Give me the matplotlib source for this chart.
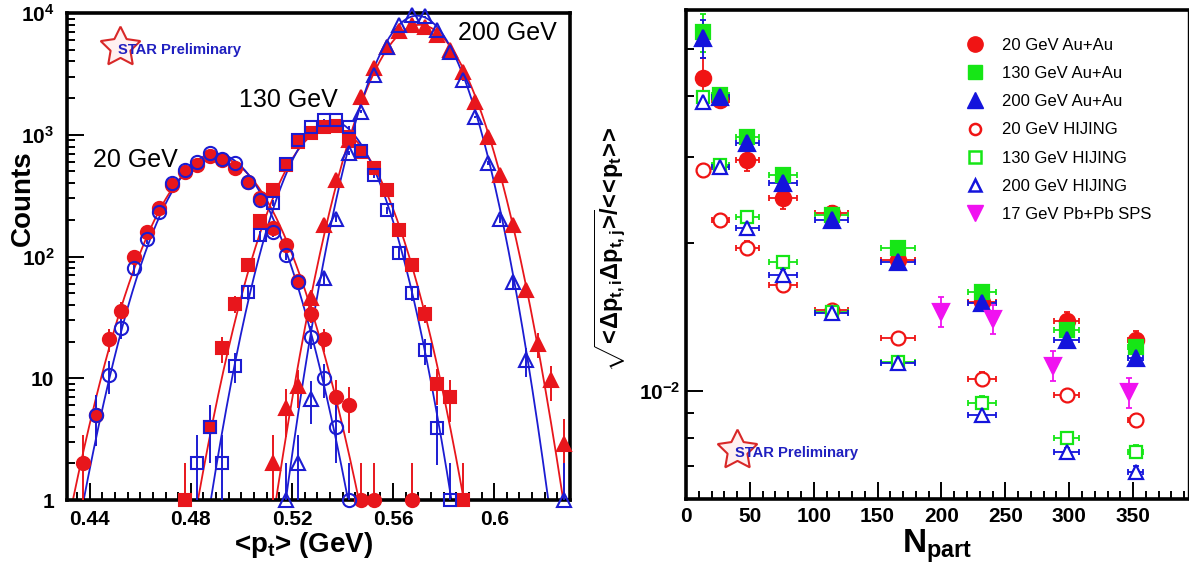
import numpy as np
import matplotlib
matplotlib.use('Agg')
import matplotlib.pyplot as plt
from matplotlib.lines import Line2D
from matplotlib.ticker import FixedLocator, FixedFormatter, MultipleLocator, NullFormatter

plt.rcParams.update({
    'font.family': ['Liberation Sans', 'DejaVu Sans'],
    'mathtext.fontset': 'custom',
    'mathtext.rm': 'Liberation Sans:bold',
    'mathtext.it': 'Liberation Sans:bold',
    'mathtext.bf': 'Liberation Sans:bold',
    'mathtext.sf': 'Liberation Sans:bold',
})

# ---------------- Left panel: <pt> distributions ----------------
pt_au20 = [.4375, .4425, .4475, .4525, .4575, .4625, .4675, .4725, .4775, .4825, .4875, .4925,
           .4975, .5025, .5075, .5125, .5175, .5225, .5275, .5325, .5375, .5425, .5475, .5525, .5675]
cnt_au20 = [2, 5, 21, 36, 100, 158, 250, 385, 490, 560, 670, 620,
            530, 410, 300, 170, 124, 63, 34, 21, 7, 6, 1, 1, 1]

pt_hij20 = [.4425, .4475, .4525, .4575, .4625, .4675, .4725, .4775, .4825, .4875, .4925,
            .4975, .5025, .5075, .5125, .5175, .5225, .5275, .5325, .5375, .5425]
cnt_hij20 = [5, 10.7, 26, 81, 139, 232, 400, 510, 600, 710, 630,
             590, 410, 290, 158, 103, 62, 22, 10, 4, 1]

pt_au130 = [.4775, .4875, .4925, .4975, .5025, .5075, .5125, .5175, .5225, .5275, .5325,
            .5375, .5425, .5475, .5525, .5575, .5625, .5675, .5725, .5775, .5825, .5875]
cnt_au130 = [1, 4, 17.6, 41, 85, 195, 352, 565, 870, 1030, 1150,
             1180, 960, 720, 530, 350, 165, 85, 34, 9, 7, 1]

pt_hij130 = [.4825, .4875, .4925, .4975, .5025, .5075, .5125, .5175, .5225, .5275, .5325,
             .5375, .5425, .5475, .5525, .5575, .5625, .5675, .5725, .5775, .5825]
cnt_hij130 = [2, 4, 2, 12.7, 51, 149, 275, 575, 910, 1150, 1320,
              1320, 1150, 740, 465, 240, 107, 50, 17, 3.9, 1]

pt_au200 = [.5125, .5175, .5225, .5275, .5325, .5375, .5425, .5475, .5525, .5575, .5625, .5675,
            .5725, .5775, .5825, .5875, .5925, .5975, .6025, .6075, .6125, .6175, .6225, .6275]
cnt_au200 = [2, 5.7, 8.7, 46, 180, 424, 910, 2040, 3550, 5290, 7050, 8000,
             7700, 6600, 5000, 3300, 1850, 960, 465, 183, 53, 19, 9.6, 2.9]

pt_hij200 = [.5175, .5225, .5275, .5325, .5375, .5425, .5475, .5525, .5575, .5625, .5675,
             .5725, .5775, .5825, .5875, .5925, .5975, .6025, .6075, .6125, .6275]
cnt_hij200 = [1, 2, 6.8, 67, 205, 710, 1550, 3100, 5300, 8000, 9700,
              9400, 7300, 4800, 2800, 1400, 590, 203, 62, 14, 1]

# Gaussian fit parameters: au20, hij20, au130, hij130, au200, hij200
fit_amp = [660, 700, 1150, 1300, 8000, 9500]
fit_mean = [0.4899, 0.4899, 0.5354, 0.5355, 0.5705, 0.5695]
fit_sigma = [0.0157, 0.01445, 0.01401, 0.01257, 0.0134, 0.01213]

energy_labels = ['20 GeV', '130 GeV', '200 GeV']

left_xticks = [0.44, 0.48, 0.52, 0.56, 0.6]
left_xticklabels = ['0.44', '0.48', '0.52', '0.56', '0.6']
left_yticks = [1, 10, 100, 1000, 10000]
left_yticklabels = ['1', '10', r'$10^{2}$', r'$10^{3}$', r'$10^{4}$']

# ---------------- Right panel: fluctuations vs Npart ----------------
npart = [13, 27, 48, 76, 114, 166, 232, 298, 352]
npart_err = [3, 7, 9, 11, 13, 13, 11, 10, 6]
fl_au20 = [0.0435, 0.0392, 0.0296, 0.0247, 0.0231, 0.0185, 0.0152, 0.0139, 0.0127]
fl_au130 = [0.0541, 0.0402, 0.0330, 0.0276, 0.0229, 0.0196, 0.0159, 0.0133, 0.01225]
fl_au200 = [0.0525, 0.0398, 0.0321, 0.0266, 0.0223, 0.0183, 0.0151, 0.0127, 0.01168]
fl_hij20 = [0.0282, 0.0223, 0.0196, 0.0164, 0.0146, 0.0128, 0.01058, 0.00981, 0.00869]
fl_hij130 = [0.0398, 0.0289, 0.0226, 0.0183, 0.0145, 0.01146, 0.00945, 0.00798, 0.0075]
fl_hij200 = [0.0389, 0.0287, 0.0215, 0.0172, 0.0144, 0.0114, 0.00893, 0.00747, 0.00681]
relerr_au = [0.09, 0.03, 0.03, 0.03, 0.02, 0.02, 0.02, 0.02, 0.02]
relerr_au20 = [0.10, 0.03, 0.05, 0.05, 0.03, 0.03, 0.03, 0.04, 0.04]
relerr_hij = [0.03, 0.03, 0.03, 0.03, 0.02, 0.02, 0.03, 0.02, 0.03]

npart_sps = [200, 240, 287, 347]
fl_sps = [0.0145, 0.0140, 0.01124, 0.00991]
relerr_sps = [0.07, 0.07, 0.07, 0.07]

legend_labels = ['20 GeV Au+Au', '130 GeV Au+Au', '200 GeV Au+Au', '20 GeV HIJING',
                 '130 GeV HIJING', '200 GeV HIJING', '17 GeV Pb+Pb SPS']

right_xticks = [0, 50, 100, 150, 200, 250, 300, 350]

# ---------------- styling ----------------
RED = '#e8161c'
BLUE = '#1c1cd2'
R2 = '#f01414'
G2 = '#16e616'
B2 = '#1414dc'
MAG = '#f012f0'

W, H = 1189, 567
fig = plt.figure(figsize=(W / 100, H / 100), dpi=100)


def px_axes(l, t, r, b):
    return fig.add_axes([l / W, 1 - b / H, (r - l) / W, (b - t) / H])


axL = px_axes(67, 13, 570, 500)
axR = px_axes(686, 10, 1188, 499)

for ax in (axL, axR):
    for s in ax.spines.values():
        s.set_linewidth(2.6)
    ax.tick_params(which='both', direction='in', top=False, right=False, width=1.4)
    ax.tick_params(which='major', length=12, labelsize=15)
    ax.tick_params(which='minor', length=6)
axR.spines['right'].set_linewidth(1.0)

# ---- left panel drawing ----
axL.set_yscale('log')
axL.set_xlim(0.431, 0.63)
axL.set_ylim(1, 1e4)

xf = np.linspace(0.43, 0.63, 1200)
fit_colors = [RED, BLUE, RED, BLUE, RED, BLUE]
for a, m, s, c in zip(fit_amp, fit_mean, fit_sigma, fit_colors):
    axL.plot(xf, a * np.exp(-(xf - m) ** 2 / (2 * s ** 2)), color=c, lw=1.3, zorder=2)


def hist_points(ax, pt, cnt, color, marker, filled, ms):
    pt = np.asarray(pt)
    cnt = np.asarray(cnt, float)
    err = np.sqrt(cnt)
    lo = np.minimum(err, cnt * 0.95)
    ax.errorbar(pt, cnt, yerr=[lo, err], fmt='none', ecolor=color, elinewidth=1.4, capsize=0, zorder=3)
    ax.plot(pt, cnt, ls='none', marker=marker, ms=ms, mfc=color if filled else 'none',
            mec=color, mew=1.5, clip_on=False, zorder=4 if filled else 5)


hist_points(axL, pt_au20, cnt_au20, RED, 'o', True, 9.5)
hist_points(axL, pt_hij20, cnt_hij20, BLUE, 'o', False, 9.5)
hist_points(axL, pt_au130, cnt_au130, RED, 's', True, 8.5)
hist_points(axL, pt_hij130, cnt_hij130, BLUE, 's', False, 8.5)
hist_points(axL, pt_au200, cnt_au200, RED, '^', True, 9.5)
hist_points(axL, pt_hij200, cnt_hij200, BLUE, '^', False, 9.5)

axL.xaxis.set_major_locator(FixedLocator(left_xticks))
axL.xaxis.set_major_formatter(FixedFormatter(left_xticklabels))
axL.xaxis.set_minor_locator(MultipleLocator(0.005))
axL.yaxis.set_major_locator(FixedLocator(left_yticks))
axL.yaxis.set_major_formatter(FixedFormatter(left_yticklabels))
axL.yaxis.set_minor_locator(FixedLocator([m * 10 ** e for e in range(0, 4) for m in range(2, 10)]))
axL.yaxis.set_minor_formatter(NullFormatter())
axL.tick_params(axis='y', pad=9)
axL.tick_params(axis='x', pad=7)
for lab in axL.get_xticklabels() + axL.get_yticklabels():
    lab.set_fontweight('bold')

axL.set_ylabel('Counts', fontsize=20, fontweight='bold')
axL.yaxis.set_label_coords(-0.062, 0.62)
axL.set_xlabel(r'<p$_{t}$> (GeV)', fontsize=20, fontweight='bold')
axL.xaxis.set_label_coords(0.47, -0.062)

for lab, (x, y) in zip(energy_labels, [(135, 160), (288, 100), (507, 33)]):
    fig.text(x / W, 1 - y / H, lab, fontsize=18, ha='center', va='center')


def star_logo(x, y):
    fig.add_artist(Line2D([x / W], [1 - y / H], marker=(5, 1, 0), ms=30, mfc='#fff0f0',
                          mec='#d82828', mew=1.5, ls='none'))
    fig.text((x - 2) / W, 1 - (y + 3) / H, 'STAR Preliminary', fontsize=10.6, fontweight='bold',
             color='#2020c0', ha='left', va='center')


star_logo(120, 47)
star_logo(737, 450)

# ---- right panel drawing ----
axR.set_yscale('log')
axR.set_xlim(0, 393)
axR.set_ylim(0.006, 0.06)


def fl_points(ax, x, y, rel, color, marker, filled, ms, xerr=None):
    x = np.asarray(x, float)
    y = np.asarray(y, float)
    yerr = y * np.asarray(rel)
    ax.errorbar(x, y, xerr=xerr, yerr=yerr, fmt='none', ecolor=color, elinewidth=1.3,
                capsize=2, capthick=1.3, zorder=3)
    ax.plot(x, y, ls='none', marker=marker, ms=ms, mfc=color if filled else 'white',
            mec=color, mew=1.6, zorder=4)


fl_points(axR, npart, fl_hij20, relerr_hij, R2, 'o', False, 10, npart_err)
fl_points(axR, npart, fl_hij130, relerr_hij, G2, 's', False, 9, npart_err)
fl_points(axR, npart, fl_hij200, relerr_hij, B2, '^', False, 10, npart_err)
fl_points(axR, npart, fl_au20, relerr_au20, R2, 'o', True, 11, npart_err)
fl_points(axR, npart, fl_au130, relerr_au, G2, 's', True, 10, npart_err)
fl_points(axR, npart, fl_au200, relerr_au, B2, '^', True, 11, npart_err)
fl_points(axR, npart_sps, fl_sps, relerr_sps, MAG, 'v', True, 11)

handles = [
    Line2D([], [], ls='none', marker='o', ms=11, mfc=R2, mec=R2),
    Line2D([], [], ls='none', marker='s', ms=10, mfc=G2, mec=G2),
    Line2D([], [], ls='none', marker='^', ms=11, mfc=B2, mec=B2),
    Line2D([], [], ls='none', marker='o', ms=8, mfc='none', mec=R2, mew=1.8),
    Line2D([], [], ls='none', marker='s', ms=8, mfc='none', mec=G2, mew=1.8),
    Line2D([], [], ls='none', marker='^', ms=9, mfc='none', mec=B2, mew=1.8),
    Line2D([], [], ls='none', marker='v', ms=11, mfc=MAG, mec=MAG),
]
axR.legend(handles, legend_labels, loc='upper left', bbox_to_anchor=(966.7 / W, 1 - 38 / H),
           bbox_transform=fig.transFigure, frameon=False, fontsize=12, borderpad=0,
           borderaxespad=0, handlelength=1.0, handletextpad=1.1, labelspacing=0.79)

axR.xaxis.set_major_locator(FixedLocator(right_xticks))
axR.xaxis.set_minor_locator(MultipleLocator(10))
axR.yaxis.set_major_locator(FixedLocator([0.01]))
axR.yaxis.set_major_formatter(FixedFormatter([r'$10^{-2}$']))
axR.yaxis.set_minor_locator(FixedLocator([0.006, 0.007, 0.008, 0.009, 0.02, 0.03, 0.04, 0.05, 0.06]))
axR.yaxis.set_minor_formatter(NullFormatter())
axR.tick_params(axis='y', pad=4)
axR.tick_params(axis='x', pad=6)
for lab in axR.get_xticklabels() + axR.get_yticklabels():
    lab.set_fontweight('bold')

axR.set_ylabel(r'$\sqrt{\!<\!\Delta p_{t,i}\Delta p_{t,j}\!>\!}\!/\!<\!\!<\!p_{t}\!>\!\!>$', fontsize=17)
axR.yaxis.set_label_coords(-0.115, 0.51)
axR.set_xlabel(r'$N_{part}$', fontsize=24)
axR.xaxis.set_label_coords(0.50, -0.058)

fig.savefig('out.png', dpi=100)
